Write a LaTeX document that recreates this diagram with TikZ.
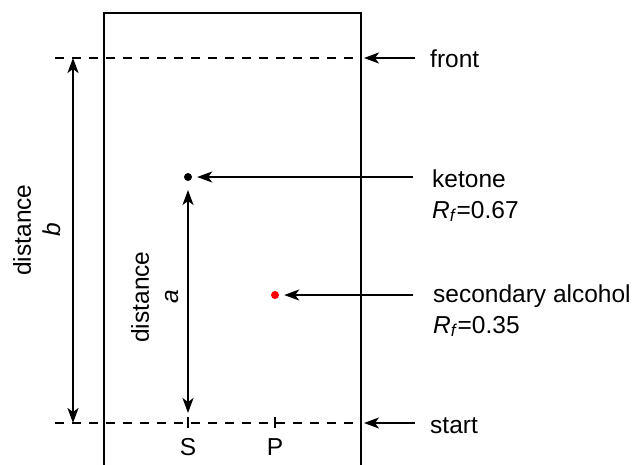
\documentclass[tikz,border=0pt]{standalone}
\usepackage{fontspec}
\setmainfont{Liberation Sans}
\usetikzlibrary{arrows.meta}
\begin{document}
\begin{tikzpicture}[x=1pt,y=-1pt,
  font=\fontsize{24.5}{30}\selectfont,
  arr/.style={line width=2pt,-{Stealth[length=15pt,width=11pt,inset=4pt]}},
  darr/.style={line width=2pt,{Stealth[length=15pt,width=11pt,inset=4pt]}-{Stealth[length=15pt,width=11pt,inset=4pt]}},
  dline/.style={line width=1.6pt,dash pattern=on 9pt off 8pt},
  plate/.style={line width=1.6pt},
  tick/.style={line width=1.6pt},
  lbl/.style={inner sep=0pt,anchor=base west},
  spot/.style={circle,inner sep=0pt,minimum size=8pt,fill=#1},
  vlbl/.style={rotate=90,align=center,inner sep=0pt}]
\useasboundingbox (0,0) rectangle (635,464);
% plate
\draw[plate] (104,470) -- (104,13) -- (361,13) -- (361,470);
% coordinates
\coordinate (fL) at (55,58);
\coordinate (fR) at (361,58);
\coordinate (sL) at (55,423);
\coordinate (sR) at (361,423);
\draw[dline] (fL) -- (fR);
\draw[dline] (sL) -- (sR);
% spots
\node[spot=black] (ket) at (188,177) {};
\node[spot=red] (alc) at (275,295) {};
% ticks
\coordinate (Stop) at (188,417);
\coordinate (Sbot) at (188,428);
\coordinate (Ptop) at (275,417);
\coordinate (Pbot) at (275,428);
\draw[tick] (Stop) -- (Sbot);
\draw[tick] (Ptop) -- (Pbot);
\node[inner sep=0pt,anchor=base] (S) at (188,455) {S};
\node[inner sep=0pt,anchor=base] (P) at (275,455) {P};
% labels
\node[lbl] (front) at (430,67) {front};
\node[lbl] (start) at (430,433) {start};
\node[lbl] (ketone) at (432,187) {ketone};
\node[lbl] (rf1) at (432,218) {\textit{R}\textsubscript{\textit{f}}=0.67};
\node[lbl] (sec) at (433,302) {secondary alcohol};
\node[lbl] (rf2) at (433,333) {\textit{R}\textsubscript{\textit{f}}=0.35};
% arrows
\coordinate (fA) at (415,58);
\coordinate (fT) at (364,58);
\draw[arr] (fA) -- (fT);
\coordinate (sA) at (415,423);
\coordinate (sT) at (364,423);
\draw[arr] (sA) -- (sT);
\coordinate (kA) at (413,177);
\draw[arr,shorten >=5pt] (kA) -- (ket);
\coordinate (aA) at (413,295);
\draw[arr,shorten >=5pt] (aA) -- (alc);
% distances
\coordinate (bT) at (73,58);
\coordinate (bB) at (73,423);
\draw[darr] (bT) -- (bB);
\coordinate (aT) at (188,190);
\coordinate (aB) at (188,413);
\draw[darr] (aT) -- (aB);
\node[vlbl] (db) at (37,230) {distance\\\textit{b}};
\node[vlbl] (da) at (155,297) {distance\\\textit{a}};
\end{tikzpicture}
\end{document}
